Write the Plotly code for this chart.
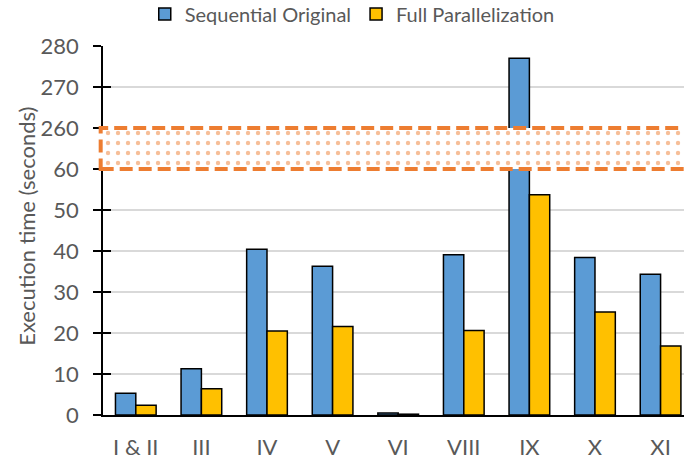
import plotly.graph_objects as go

categories = ["I & II", "III", "IV", "V", "VI", "VIII", "IX", "X", "XI"]
sequential = [5.3, 11.3, 40.4, 36.3, 0.5, 39.1, 277.0, 38.4, 34.3]
parallel = [2.4, 6.4, 20.5, 21.6, 0.2, 20.6, 53.7, 25.1, 16.8]
lower_ticks = [0, 10, 20, 30, 40, 50, 60]
upper_ticks = [260, 270, 280]

BLUE = "#5B9BD5"
YELLOW = "#FFC000"
ORANGE = "#ED7D31"
TXT = "#595959"
FONT = "Lato"

fig = go.Figure()
for name, vals, col in [("Sequential Original", sequential, BLUE),
                        ("Full Parallelization", parallel, YELLOW)]:
    fig.add_trace(go.Bar(x=categories, y=vals, name=name, marker_color=col,
                         marker_line_color="black", marker_line_width=1.5,
                         xaxis="x", yaxis="y", legendgroup=name))
for name, vals, col in [("Sequential Original", sequential, BLUE),
                        ("Full Parallelization", parallel, YELLOW)]:
    fig.add_trace(go.Bar(x=categories, y=vals, name=name, marker_color=col,
                         marker_line_color="black", marker_line_width=1.5,
                         xaxis="x", yaxis="y2", legendgroup=name, showlegend=False))

# invisible helpers so the inner tick axes are drawn
for ax in ["y4", "y5"]:
    fig.add_trace(go.Scatter(x=[categories[0]], y=[None], yaxis=ax, xaxis="x",
                             mode="markers", showlegend=False, hoverinfo="skip"))

# break band pattern
fig.add_trace(go.Scatter(x=[0, 1, 1, 0, 0], y=[0, 0, 1, 1, 0], mode="lines",
                         fill="toself", fillcolor="white", line=dict(width=0),
                         fillpattern=dict(shape=".", fgcolor=ORANGE, bgcolor="white",
                                          size=10, solidity=0.15),
                         xaxis="x2", yaxis="y3", showlegend=False, hoverinfo="skip"))

lo_dom = [0, 6 / 9]
up_dom = [7 / 9, 1]
axis_common = dict(showline=True, linecolor="black", linewidth=1.5,
                   showgrid=True, gridcolor="#D9D9D9", gridwidth=1.5,
                   ticks="outside", ticklen=8, tickcolor="black", tickwidth=1.5,
                   tickfont=dict(family=FONT, size=22, color=TXT),
                   ticklabelstandoff=10, zeroline=False, automargin=False)
inner_ticks = dict(ticks="inside", ticklen=8, tickcolor="black", tickwidth=1.5,
                   showticklabels=False, showgrid=False, showline=False,
                   zeroline=False, automargin=False)

fig.update_layout(
    width=684, height=463,
    margin=dict(l=103, r=0, t=46, b=48, autoexpand=False),
    paper_bgcolor="white", plot_bgcolor="white",
    barmode="group", bargap=0.38, bargroupgap=0,
    font=dict(family=FONT, color=TXT),
    xaxis=dict(type="category", range=[-0.5, 8.357], domain=[0, 1], anchor="y",
               showline=True, linecolor="black", linewidth=1.5, ticks="",
               showgrid=False, tickfont=dict(family=FONT, size=22, color=TXT),
               ticklabelstandoff=12, automargin=False),
    yaxis=dict(domain=lo_dom, range=[0, 60], tickvals=lower_ticks, anchor="x", **axis_common),
    yaxis2=dict(domain=up_dom, range=[260, 280], tickvals=upper_ticks, anchor="x", **axis_common),
    yaxis4=dict(overlaying="y", range=[0, 60], tickvals=lower_ticks, anchor="x", side="left", **inner_ticks),
    yaxis5=dict(overlaying="y2", range=[260, 280], tickvals=upper_ticks, anchor="x", side="left", **inner_ticks),
    xaxis2=dict(overlaying="x", range=[0, 1], visible=False, anchor="y3"),
    yaxis3=dict(domain=[6 / 9, 7 / 9], range=[0, 1], visible=False, anchor="x2"),
    legend=dict(orientation="h", xref="container", yref="container",
                x=0.515, y=1 - 14 / 463, xanchor="center", yanchor="middle",
                font=dict(family=FONT, size=20, color=TXT), itemwidth=30,
                traceorder="normal"),
    showlegend=True,
)

# dashed border of the break band
fig.add_shape(type="rect", xref="paper", yref="paper", x0=-0.004, x1=1.03,
              y0=6 / 9, y1=7 / 9, line=dict(color=ORANGE, width=4, dash="13px,6px"),
              fillcolor="rgba(0,0,0,0)", layer="above")

fig.add_annotation(text="Execution time (seconds)", xref="paper", yref="paper",
                   x=(27 - 103) / 581, y=0.51, textangle=-90, showarrow=False,
                   font=dict(family=FONT, size=22, color=TXT),
                   xanchor="center", yanchor="middle")

fig.write_html("out.html", config={"displayModeBar": False},
               post_script="document.body.style.margin='0';document.body.style.overflow='hidden';")
